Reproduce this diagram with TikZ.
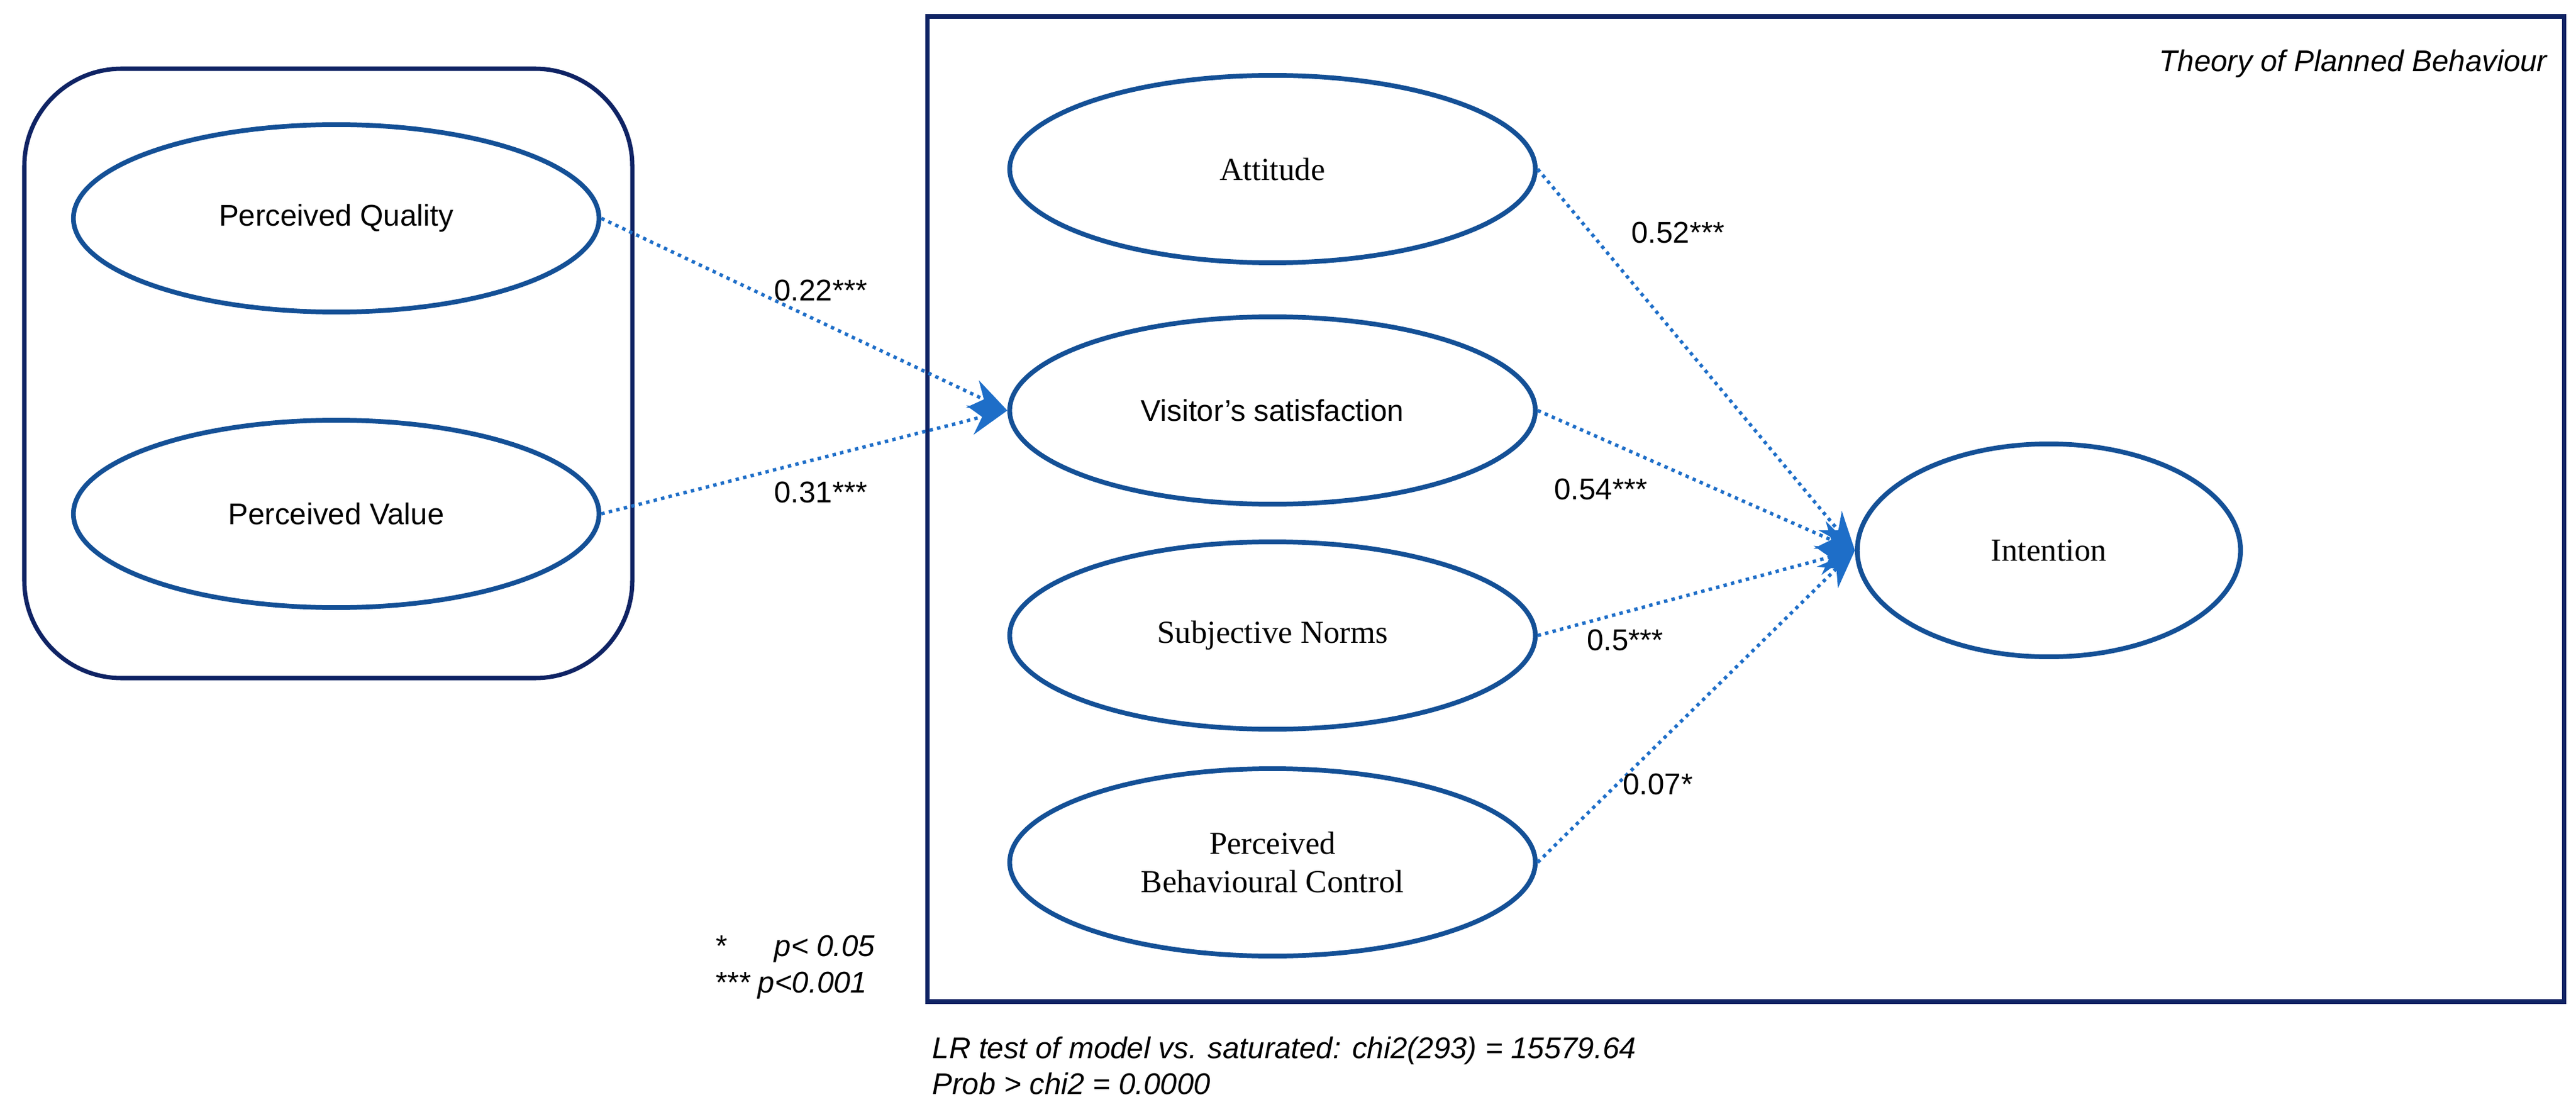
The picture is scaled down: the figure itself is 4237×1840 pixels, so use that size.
\documentclass[tikz,border=0pt]{standalone}
\usepackage{fontspec}
\setmainfont{Liberation Serif}
\setsansfont{Liberation Sans}
\usetikzlibrary{arrows.meta,shapes.geometric}
\definecolor{ellc}{RGB}{20,80,150}
\definecolor{boxc}{RGB}{15,35,100}
\definecolor{arrc}{RGB}{30,110,200}
\tikzset{
 lat/.style={ellipse,draw=ellc,line width=2.2pt,minimum width=8.64cm,minimum height=3.08cm,align=center,inner sep=0pt},
 sfl/.style={font=\sffamily\fontsize{14}{17}\selectfont},
 sel/.style={font=\fontsize{15}{18}\selectfont},
 pathar/.style={draw=arrc,line width=1.6pt,dotted,-{Stealth[length=18pt,width=14pt,fill=arrc]}},
 coef/.style={font=\sffamily\fontsize{14}{17}\selectfont,inner sep=1pt},
 note/.style={font=\sffamily\itshape\fontsize{14}{17}\selectfont,inner sep=0pt,anchor=west}
}
\begin{document}
\begin{tikzpicture}[x=0.01cm,y=-0.01cm]
\useasboundingbox (0,0) rectangle (4237,1840);
\draw[boxc,line width=2pt,rounded corners=1.6cm] (40,113) rectangle (1040,1115);
\draw[boxc,line width=2pt] (1525,27) rectangle (4217,1647);
\node[lat,sfl] (pq) at (553,359) {Perceived Quality};
\node[lat,sfl] (pv) at (553,845) {Perceived Value};
\node[lat,sel] (att) at (2093,278) {Attitude};
\node[lat,sfl] (vs) at (2093,675) {Visitor's satisfaction};
\node[lat,sel] (sn) at (2093,1045) {Subjective Norms};
\node[lat,sel] (pbc) at (2093,1418) {Perceived\\Behavioural Control};
\node[lat,sel,minimum width=6.3cm,minimum height=3.5cm] (int) at (3370,905) {Intention};
\node[note,anchor=east] (title) at (4190,105) {Theory of Planned Behaviour};
\draw[pathar] (pq.east) -- (vs.west);
\draw[pathar] (pv.east) -- (vs.west);
\draw[pathar] (att.east) -- (int.west);
\draw[pathar] (vs.east) -- (int.west);
\draw[pathar] (sn.east) -- (int.west);
\draw[pathar] (pbc.east) -- (int.west);
\node[coef] (c1) at (1350,478) {0.22***};
\node[coef] (c2) at (1350,810) {0.31***};
\node[coef] (c3) at (2760,383) {0.52***};
\node[coef] (c4) at (2633,805) {0.54***};
\node[coef] (c5) at (2673,1053) {0.5***};
\node[coef] (c6) at (2727,1290) {0.07*};
\node[note] (n1) at (1175,1560) {*\hspace{1.6em}p<\ 0.05};
\node[note] (n2) at (1175,1620) {*** p<0.001};
\node[note] (lr1) at (1533,1728) {LR test of model vs. saturated: chi2(293) = 15579.64};
\node[note] (lr2) at (1533,1782) {Prob > chi2 = 0.0000};
\end{tikzpicture}
\end{document}
